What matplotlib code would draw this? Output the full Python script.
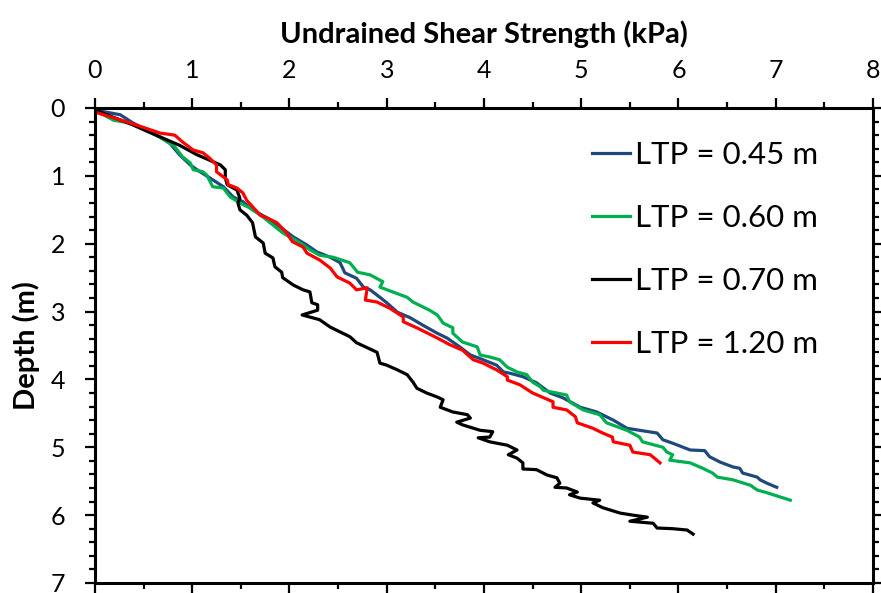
import matplotlib
matplotlib.use('Agg')
import matplotlib.pyplot as plt
from matplotlib.ticker import MultipleLocator

plt.rcParams['font.family'] = ['Lato', 'DejaVu Sans']

su_045 = [0.00, 0.26, 0.39, 0.67, 0.77, 0.87, 0.98, 1.08, 1.18, 1.32, 1.42, 1.52, 1.62, 1.77, 1.90,
          2.04, 2.18, 2.28, 2.42, 2.52, 2.57, 2.69, 2.76, 2.83, 2.93, 3.00, 3.11, 3.24, 3.37, 3.52,
          3.62, 3.75, 3.86, 3.99, 4.13, 4.20, 4.27, 4.40, 4.54, 4.68, 4.81, 4.99, 5.16, 5.33, 5.47,
          5.60, 5.78, 5.84, 5.94, 6.12, 6.27, 6.32, 6.43, 6.56, 6.63, 6.66, 6.81, 6.84, 6.91, 7.01]
z_045 = [0.03, 0.10, 0.22, 0.43, 0.52, 0.69, 0.84, 0.94, 1.03, 1.16, 1.31, 1.38, 1.50, 1.62, 1.75,
         1.90, 2.02, 2.12, 2.20, 2.28, 2.43, 2.51, 2.64, 2.68, 2.79, 2.87, 3.01, 3.09, 3.20, 3.32,
         3.39, 3.52, 3.64, 3.71, 3.79, 3.89, 3.91, 3.96, 4.05, 4.20, 4.27, 4.41, 4.48, 4.60, 4.72,
         4.75, 4.79, 4.89, 4.94, 5.04, 5.05, 5.14, 5.22, 5.29, 5.31, 5.38, 5.44, 5.48, 5.53, 5.59]

su_060 = [0.00, 0.19, 0.36, 0.67, 0.82, 0.90, 0.98, 1.01, 1.11, 1.15, 1.21, 1.32, 1.39, 1.49, 1.59,
          1.73, 1.93, 2.11, 2.21, 2.31, 2.45, 2.62, 2.70, 2.83, 2.96, 2.93, 3.06, 3.21, 3.27, 3.44,
          3.52, 3.58, 3.68, 3.68, 3.78, 3.93, 3.96, 4.06, 4.16, 4.24, 4.34, 4.44, 4.50, 4.58, 4.61,
          4.85, 4.88, 5.02, 5.19, 5.26, 5.47, 5.60, 5.63, 5.84, 5.88, 5.94, 5.91, 6.12, 6.25, 6.35,
          6.40, 6.56, 6.74, 6.81, 6.91, 7.04, 7.15]
z_060 = [0.03, 0.18, 0.22, 0.43, 0.57, 0.72, 0.81, 0.91, 0.94, 0.99, 1.16, 1.18, 1.31, 1.40, 1.47,
         1.61, 1.84, 1.99, 2.09, 2.17, 2.20, 2.28, 2.42, 2.46, 2.56, 2.64, 2.71, 2.79, 2.86, 2.98,
         3.05, 3.17, 3.24, 3.32, 3.45, 3.52, 3.64, 3.67, 3.71, 3.82, 3.89, 3.93, 4.04, 4.11, 4.16,
         4.23, 4.33, 4.45, 4.52, 4.64, 4.75, 4.85, 4.92, 5.00, 5.07, 5.11, 5.19, 5.23, 5.31, 5.38,
         5.44, 5.48, 5.56, 5.63, 5.67, 5.73, 5.78]

su_070 = [0.00, 0.39, 0.74, 0.87, 1.05, 1.18, 1.29, 1.34, 1.34, 1.36, 1.46, 1.49, 1.47, 1.49, 1.56,
          1.62, 1.65, 1.73, 1.75, 1.83, 1.85, 1.92, 1.93, 2.04, 2.14, 2.21, 2.23, 2.29, 2.29, 2.13,
          2.31, 2.42, 2.52, 2.62, 2.69, 2.78, 2.90, 2.93, 3.00, 3.11, 3.21, 3.27, 3.31, 3.41, 3.52,
          3.58, 3.55, 3.68, 3.83, 3.86, 3.72, 3.78, 3.96, 4.09, 4.06, 3.94, 4.06, 4.24, 4.34, 4.25,
          4.34, 4.40, 4.40, 4.54, 4.65, 4.75, 4.78, 4.73, 4.85, 4.96, 4.88, 4.99, 5.19, 5.12, 5.22,
          5.40, 5.53, 5.68, 5.50, 5.74, 5.78, 5.94, 6.09, 6.15]
z_070 = [0.03, 0.25, 0.47, 0.55, 0.69, 0.77, 0.84, 0.91, 1.03, 1.13, 1.21, 1.33, 1.40, 1.50, 1.58,
         1.69, 1.90, 1.99, 2.14, 2.21, 2.34, 2.42, 2.50, 2.61, 2.68, 2.71, 2.87, 2.90, 2.98, 3.05,
         3.12, 3.23, 3.30, 3.37, 3.46, 3.52, 3.60, 3.76, 3.79, 3.86, 3.93, 4.04, 4.13, 4.20, 4.26,
         4.30, 4.41, 4.48, 4.52, 4.57, 4.63, 4.67, 4.75, 4.77, 4.85, 4.86, 4.92, 4.97, 5.04, 5.11,
         5.16, 5.23, 5.32, 5.33, 5.41, 5.45, 5.53, 5.59, 5.60, 5.66, 5.70, 5.75, 5.78, 5.82, 5.89,
         5.97, 6.00, 6.03, 6.09, 6.12, 6.19, 6.20, 6.22, 6.28]

su_120 = [0.00, 0.36, 0.67, 0.82, 0.90, 1.01, 1.11, 1.18, 1.25, 1.25, 1.36, 1.37, 1.46, 1.52, 1.56,
          1.70, 1.77, 1.87, 1.97, 2.03, 2.14, 2.18, 2.31, 2.42, 2.49, 2.62, 2.69, 2.80, 2.78, 2.90,
          3.03, 3.17, 3.17, 3.31, 3.52, 3.65, 3.78, 3.89, 3.99, 4.13, 4.24, 4.24, 4.37, 4.50, 4.71,
          4.71, 4.85, 4.94, 4.96, 5.12, 5.22, 5.32, 5.33, 5.50, 5.53, 5.71, 5.81]
z_120 = [0.06, 0.22, 0.37, 0.40, 0.50, 0.62, 0.66, 0.74, 0.84, 0.94, 1.06, 1.13, 1.18, 1.25, 1.36,
         1.58, 1.62, 1.69, 1.84, 1.97, 2.05, 2.14, 2.24, 2.36, 2.49, 2.58, 2.68, 2.65, 2.83, 2.86,
         2.95, 3.08, 3.15, 3.24, 3.39, 3.49, 3.57, 3.71, 3.76, 3.86, 3.96, 4.01, 4.08, 4.20, 4.33,
         4.41, 4.45, 4.55, 4.64, 4.72, 4.79, 4.85, 4.92, 4.97, 5.07, 5.11, 5.23]

labels = ['LTP = 0.45 m', 'LTP = 0.60 m', 'LTP = 0.70 m', 'LTP = 1.20 m']
colors = ['#1F497D', '#00B050', '#000000', '#FF0000']

fig = plt.figure(figsize=(8.81, 5.93), dpi=100)
ax = fig.add_axes([0.1078, 0.0169, 0.8831, 0.801])

curves = [(su_045, z_045), (su_060, z_060), (su_070, z_070), (su_120, z_120)]
for (x, z), lab, col in zip(curves, labels, colors):
    ax.plot(x, z, color=col, lw=2.3, label=lab, solid_joinstyle='round')

ax.set_xlim(0, 8)
ax.set_ylim(7, 0)
ax.xaxis.set_major_locator(MultipleLocator(1))
ax.xaxis.set_minor_locator(MultipleLocator(0.5))
ax.yaxis.set_major_locator(MultipleLocator(1))
ax.yaxis.set_minor_locator(MultipleLocator(0.2))

ax.xaxis.tick_top()
ax.xaxis.set_label_position('top')
ax.tick_params(which='both', direction='out', width=1.6, colors='black',
               top=True, bottom=True, left=True, right=True,
               labeltop=True, labelbottom=False, labelright=False)
ax.tick_params(axis='x', which='major', length=7.5, labelsize=18, pad=11)
ax.tick_params(axis='x', which='minor', length=4.5)
ax.tick_params(axis='y', which='major', length=7.5, labelsize=18, pad=14)
ax.tick_params(axis='y', which='minor', length=4.5)
for s in ax.spines.values():
    s.set_linewidth(2.2)

ax.set_xlabel('Undrained Shear Strength (kPa)', fontsize=21, fontweight='bold')
ax.set_ylabel('Depth (m)', fontsize=21, fontweight='bold')
ax.xaxis.set_label_coords(0.5, 1.137)
ax.yaxis.set_label_coords(-0.071, 0.5)

ax.legend(loc='upper right', bbox_to_anchor=(0.945, 0.957), frameon=False, fontsize=22.5,
          handlelength=1.2, handletextpad=0.15, labelspacing=1.12, borderaxespad=0)

fig.savefig('out.png', dpi=100)
